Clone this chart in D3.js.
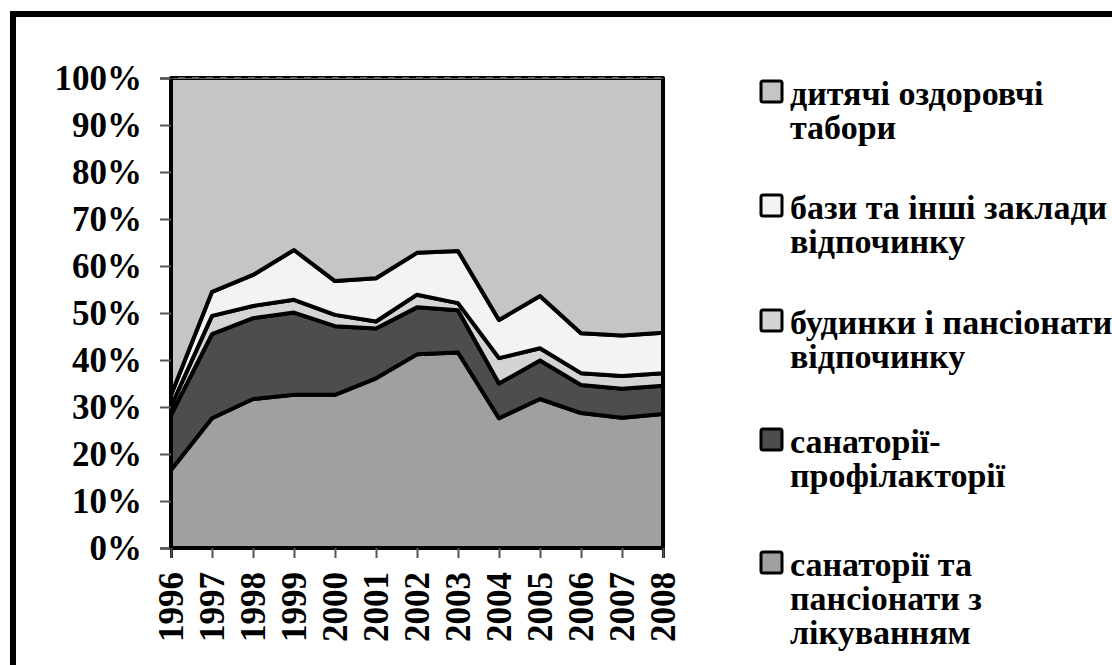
<!DOCTYPE html>
<html>
<head>
<meta charset="utf-8">
<script src="https://cdn.jsdelivr.net/npm/d3@7"></script>
<style>
  html, body { margin: 0; padding: 0; background: #fff; }
  svg { display: block; }
  text { font-family: "Liberation Serif", "Times New Roman", serif; font-weight: bold; fill: #000; }
</style>
</head>
<body>
<div id="chart"></div>
<script>
// years on the x axis
var years = [1996, 1997, 1998, 1999, 2000, 2001, 2002, 2003, 2004, 2005, 2006, 2007, 2008];

// shares of each type, %, bottom to top
var sanatoriiLik = [16.6, 27.6, 31.7, 32.6, 32.6, 36.1, 41.2, 41.6, 27.6, 31.7, 28.7, 27.7, 28.5];
var profilaktorii = [11.7, 17.9, 17.2, 17.5, 14.6, 10.6, 10.0, 9.0, 7.4, 8.2, 6.0, 6.2, 6.0];
var budynky = [1.8, 3.9, 2.6, 2.7, 2.4, 1.5, 2.7, 1.5, 5.4, 2.6, 2.5, 2.7, 2.7];
var bazy = [2.4, 5.1, 6.6, 10.6, 7.2, 9.2, 8.9, 11.1, 8.1, 11.1, 8.5, 8.6, 8.6];
var tabory = [67.5, 45.5, 41.9, 36.6, 43.2, 42.6, 37.2, 36.8, 51.5, 46.4, 54.3, 54.8, 54.2];

var seriesKeys = ["lik", "prof", "bud", "baz", "tab"];
var seriesNames = {
  tab: ["дитячі оздоровчі", "табори"],
  baz: ["бази та інші заклади", "відпочинку"],
  bud: ["будинки і пансіонати", "відпочинку"],
  prof: ["санаторії-", "профілакторії"],
  lik: ["санаторії та", "пансіонати з", "лікуванням"]
};
var colors = { lik: "#a0a0a0", prof: "#4d4d4d", bud: "#d4d4d4", baz: "#f3f3f3", tab: "#c5c5c5" };

var rows = years.map(function(y, i) {
  return { year: y, lik: sanatoriiLik[i], prof: profilaktorii[i], bud: budynky[i], baz: bazy[i], tab: tabory[i] };
});

var W = 1112, H = 665;
var margin = { top: 78, left: 171 },
  width = 663 - 171,
  height = 548 - 78;

var svg = d3.select("#chart").append("svg")
  .attr("width", W)
  .attr("height", H);

// chart area frame (runs off the right and bottom edges)
svg.append("rect")
  .attr("x", 13).attr("y", 14)
  .attr("width", 1200).attr("height", 800)
  .attr("fill", "#fff")
  .attr("stroke", "#000")
  .attr("stroke-width", 6);

var g = svg.append("g")
  .attr("transform", "translate(" + margin.left + "," + margin.top + ")");

var x = d3.scalePoint()
  .domain(years)
  .range([0, width]);

var y = d3.scaleLinear()
  .domain([0, 1])
  .range([height, 0]);

var stack = d3.stack()
  .keys(seriesKeys)
  .offset(d3.stackOffsetExpand);

var layers = stack(rows);

var area = d3.area()
  .x(function(d) { return x(d.data.year); })
  .y0(function(d) { return y(d[0]); })
  .y1(function(d) { return y(d[1]); });

g.selectAll(".layer")
  .data(layers)
  .enter().append("path")
    .attr("class", "layer")
    .attr("d", area)
    .attr("fill", function(d) { return colors[d.key]; })
    .attr("stroke", "#000")
    .attr("stroke-width", 4)
    .attr("stroke-linejoin", "round");

// top edge at 100%
g.append("line")
  .attr("x1", 0).attr("x2", width)
  .attr("y1", y(1)).attr("y2", y(1))
  .attr("stroke", "#666")
  .attr("stroke-width", 2);
g.append("line")
  .attr("x1", 0).attr("x2", width)
  .attr("y1", y(1) - 1).attr("y2", y(1) - 1)
  .attr("stroke", "#000")
  .attr("stroke-width", 2)
  .attr("stroke-dasharray", "7,7");

// axes
var yAxis = d3.axisLeft(y)
  .tickValues(d3.range(0, 1.0001, 0.1))
  .tickFormat(d3.format(".0%"))
  .tickSize(11)
  .tickPadding(18);

var gy = g.append("g").call(yAxis);
gy.select(".domain").attr("stroke", "#000").attr("stroke-width", 2);
gy.selectAll(".tick line").attr("stroke", "#555").attr("stroke-width", 2);
gy.selectAll("text")
  .style("font-size", "35px")
  .attr("dy", "0.34em");

var xAxis = d3.axisBottom(x).tickSize(10);
var gx = g.append("g")
  .attr("transform", "translate(0," + height + ")")
  .call(xAxis);
gx.select(".domain").attr("stroke", "#000").attr("stroke-width", 3);
gx.selectAll(".tick line").attr("stroke", "#555").attr("stroke-width", 2);
gx.selectAll("text")
  .style("font-size", "35px")
  .attr("text-anchor", "end")
  .attr("transform", "rotate(-90)")
  .attr("x", -24)
  .attr("y", 0)
  .attr("dy", "0.34em");

// legend, top series first
var legendKeys = seriesKeys.slice().reverse();
var legendTop = [105, 219, 334, 453, 576];  // first baseline of each entry
var lineH = 34;
var legend = svg.append("g").attr("class", "legend");
legendKeys.forEach(function(k, i) {
  var ly = legendTop[i];
  legend.append("rect")
    .attr("x", 761).attr("y", ly - 24)
    .attr("width", 21).attr("height", 21)
    .attr("rx", 2)
    .attr("fill", colors[k])
    .attr("stroke", "#000")
    .attr("stroke-width", 3);
  seriesNames[k].forEach(function(t, j) {
    legend.append("text")
      .attr("x", 790)
      .attr("y", ly + j * lineH)
      .style("font-size", "34px")
      .text(t);
  });
});
</script>
</body>
</html>
